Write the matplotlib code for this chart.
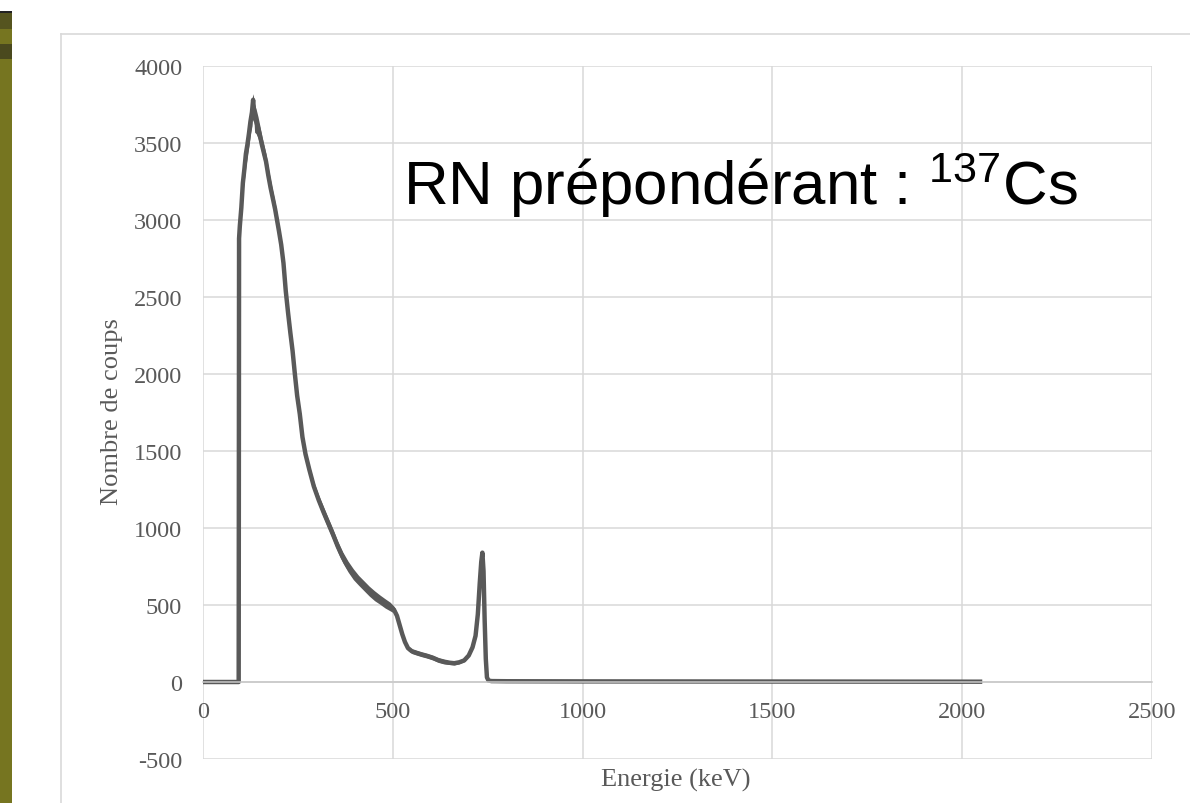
import matplotlib
matplotlib.use("Agg")
import matplotlib.pyplot as plt
from matplotlib.patches import Rectangle
from matplotlib.lines import Line2D
import numpy as np

# gamma spectrum (energy in keV, counts)
energy_kev = [0, 94, 95, 97, 101, 105, 109, 113, 117, 121, 125, 129, 132, 136, 140,
              145, 150, 155, 160, 166, 172, 178, 184, 190, 195, 200, 206, 212, 218,
              224, 230, 236, 242, 248, 255, 262, 270, 280, 292, 305, 318, 330, 342,
              355, 368, 382, 396, 410, 424, 438, 452, 466, 480, 493, 503, 511, 518,
              525, 532, 540, 550, 562, 575, 590, 605, 620, 635, 650, 662, 675, 688,
              700, 710, 718, 724, 729, 733, 736, 739, 742, 745, 748, 752, 760, 800,
              1000, 1500, 2047]
counts = [0, 0, 2880, 2960, 3080, 3240, 3330, 3430, 3490, 3560, 3640, 3700, 3780, 3660, 3640,
          3600, 3550, 3490, 3440, 3380, 3290, 3210, 3140, 3070, 3000, 2930, 2840, 2720, 2540,
          2400, 2270, 2150, 2000, 1860, 1740, 1590, 1480, 1380, 1270, 1180, 1100, 1030, 960,
          880, 810, 750, 700, 660, 625, 590, 560, 535, 510, 490, 470, 430, 370,
          310, 260, 220, 200, 190, 180, 170, 158, 142, 132, 125, 122, 128, 140,
          172, 225, 300, 440, 640, 780, 840, 720, 400, 150, 30, 10, 6, 5,
          4, 3, 2]
# half width of the noisy band around the curve
spread = [0, 0, 0, 50, 60, 60, 70, 80, 80, 80, 80, 90, 40, 90, 80,
          70, 60, 55, 55, 50, 50, 50, 45, 45, 45, 40, 35, 35, 30,
          30, 30, 30, 30, 30, 30, 30, 30, 30, 30, 32, 35, 35, 35,
          35, 35, 35, 35, 32, 32, 32, 32, 30, 30, 28, 22, 20, 18,
          15, 15, 15, 15, 15, 15, 15, 15, 15, 15, 12, 12, 10, 8,
          5, 0, 0, 0, 0, 0, 0, 0, 0, 0, 0, 0, 0, 0,
          0, 0, 0]

x_ticks = [0, 500, 1000, 1500, 2000, 2500]
y_ticks = [-500, 0, 500, 1000, 1500, 2000, 2500, 3000, 3500, 4000]

W, H = 1190, 804
LINE = "#595959"
GRID = "#d9d9d9"
SERIF = "Liberation Serif"
SANS = "Liberation Sans"

plt.rcParams["axes.unicode_minus"] = False
plt.rcParams["mathtext.fontset"] = "custom"
plt.rcParams["mathtext.rm"] = SANS

fig = plt.figure(figsize=(W / 100, H / 100), dpi=100)
fig.patch.set_facecolor("white")

# slide background strip on the left
fig.add_artist(Rectangle((0, 0), 12 / W, 1 - 12 / H, transform=fig.transFigure,
                         facecolor="#767520", edgecolor="none"))
fig.add_artist(Rectangle((0, 1 - 30 / H), 12 / W, 18 / H, transform=fig.transFigure,
                         facecolor="#55541f", edgecolor="none"))
fig.add_artist(Rectangle((0, 1 - 60 / H), 12 / W, 15 / H, transform=fig.transFigure,
                         facecolor="#4a491e", edgecolor="none"))
fig.add_artist(Rectangle((0, 1 - 14 / H), 12 / W, 2 / H, transform=fig.transFigure,
                         facecolor="#222222", edgecolor="none"))

# chart frame (goes off the picture on the right and bottom)
fig.add_artist(Line2D([61 / W, 61 / W], [1 - 35 / H, 0], transform=fig.transFigure,
                      color=GRID, lw=1.2))
fig.add_artist(Line2D([61 / W, 1], [1 - 35 / H, 1 - 35 / H], transform=fig.transFigure,
                      color=GRID, lw=1.2))

ax = fig.add_axes([203 / W, 1 - 760 / H, 949 / W, 693 / H])
ax.set_xlim(0, 2500)
ax.set_ylim(-500, 4000)
ax.set_xticks(x_ticks)
ax.set_yticks(y_ticks)
ax.grid(True, color=GRID, lw=1.1)
ax.set_axisbelow(True)
for s in ["top", "right", "left"]:
    ax.spines[s].set_visible(False)
ax.spines["bottom"].set_position(("data", 0))
ax.spines["bottom"].set_color("#c8c8c8")
ax.spines["bottom"].set_linewidth(1.1)
ax.tick_params(length=0, labelsize=17.5, labelcolor=LINE)
ax.tick_params(axis="y", pad=15)
ax.tick_params(axis="x", pad=14)
for lab in ax.get_xticklabels() + ax.get_yticklabels():
    lab.set_fontfamily(SERIF)

e = np.array(energy_kev)
c = np.array(counts)
sp = np.array(spread)
ax.fill_between(e, c - sp, c + sp, color=LINE, lw=0)
ax.plot(e, c, color=LINE, lw=3.2, solid_joinstyle="round")

fig.text(112 / W, 1 - 412 / H, "Nombre de coups", rotation=90, ha="center", va="center",
         fontsize=19, color=LINE, family=SERIF)
fig.text(676 / W, 1 - 780 / H, "Energie (keV)", ha="center", va="center",
         fontsize=19, color=LINE, family=SERIF)

fig.text(403 / W, 1 - 205 / H, r"RN prépondérant : $\mathregular{^{137}}$Cs",
         ha="left", va="baseline", fontsize=44.5, color="black", family=SANS)

fig.savefig("out.png", dpi=100)
